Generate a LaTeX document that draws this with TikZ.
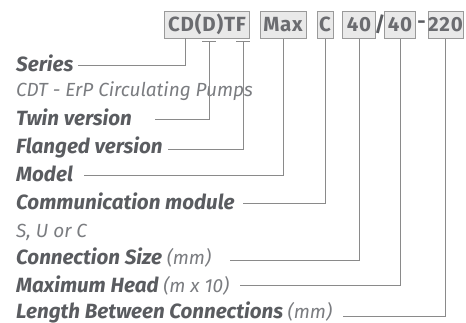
\documentclass[tikz,border=0pt]{standalone}
\usepackage{fontspec}
\setmainfont{Fira Sans}
\definecolor{txtdark}{HTML}{5A5C60}
\definecolor{txtlight}{HTML}{7A7C80}
\definecolor{linegray}{HTML}{8A8A8A}
\definecolor{boxfill}{HTML}{E9E9E9}
\definecolor{boxdraw}{HTML}{9A9A9A}
\begin{document}
\begin{tikzpicture}[x=1pt,y=-1pt,
  codebox/.style={draw=boxdraw,fill=boxfill,line width=1pt,inner sep=0pt,minimum height=27pt,
    font=\fontsize{20.5}{20.5}\selectfont\bfseries\addfontfeature{LetterSpace=4},text=txtdark!90},
  sep/.style={inner sep=0pt,font=\fontsize{20.5}{20.5}\selectfont\bfseries,text=txtdark},
  lab/.style={anchor=base west,inner sep=0pt,font=\fontsize{20.6}{20.6}\selectfont\bfseries\itshape,text=txtdark},
  note/.style={anchor=base west,inner sep=0pt,font=\fontsize{19}{19}\selectfont\itshape,text=txtlight},
  conn/.style={draw=linegray,line width=1pt}]
\useasboundingbox (0,0) rectangle (466,322);
% code boxes
\node[codebox,minimum width=85pt] (bCD) at (207,24.5) {CD(D)TF};
\node[codebox,minimum width=46pt] (bMax) at (283,24.5) {Max};
\node[codebox,minimum width=16pt] (bC) at (325,24.5) {C};
\node[codebox,minimum width=33pt] (b40a) at (359,24.5) {40};
\node[sep] (slash) at (380,24.5) {/};
\node[codebox,minimum width=31pt] (b40b) at (400,24.5) {40};
\node[sep] (dash) at (421.5,24.5) {-};
\node[codebox,minimum width=35pt] (b220) at (445.5,24.5) {220};
% labels
\node[lab] (lSeries) at (16,71) {Series};
\node[note] (lCDT) at (16,96) {CDT - ErP Circulating Pumps};
\node[lab] (lTwin) at (16,125) {Twin version};
\node[lab] (lFlanged) at (16,153) {Flanged version};
\node[lab] (lModel) at (16,181) {Model};
\node[lab] (lComm) at (16,209) {Communication module};
\node[note] (lSUC) at (16,237) {S, U or C};
\node[lab] (lConn) at (16,264) {Connection Size {\fontsize{19}{19}\selectfont\mdseries\color{txtlight}(mm)}};
\node[lab] (lHead) at (16,292) {Maximum Head {\fontsize{19}{19}\selectfont\mdseries\color{txtlight}(m x 10)}};
\node[lab] (lLen) at (16,318) {Length Between Connections {\fontsize{19}{19}\selectfont\mdseries\color{txtlight}(mm)}};
% connector points
\coordinate (tS) at (185,38);
\coordinate (tT) at (209,41);
\coordinate (tF) at (243,41);
\coordinate (sS) at (78,65);
\coordinate (sT) at (155,119);
\coordinate (sF) at (168,149);
\coordinate (sM) at (84,175);
\coordinate (sCm) at (243,203);
\coordinate (sCn) at (230,260);
\coordinate (sH) at (240,285);
\coordinate (sL) at (343,316);
% ticks
\draw[conn] (202,41) -- (216,41);
\draw[conn] (236,41) -- (250,41);
% connectors
\draw[conn] (tS) |- (sS);
\draw[conn] (tT) |- (sT);
\draw[conn] (tF) |- (sF);
\draw[conn] (bMax.south) |- (sM);
\draw[conn] (bC.south) |- (sCm);
\draw[conn] (b40a.south) |- (sCn);
\draw[conn] (b40b.south) |- (sH);
\draw[conn] (b220.south) |- (sL);
\end{tikzpicture}
\end{document}
